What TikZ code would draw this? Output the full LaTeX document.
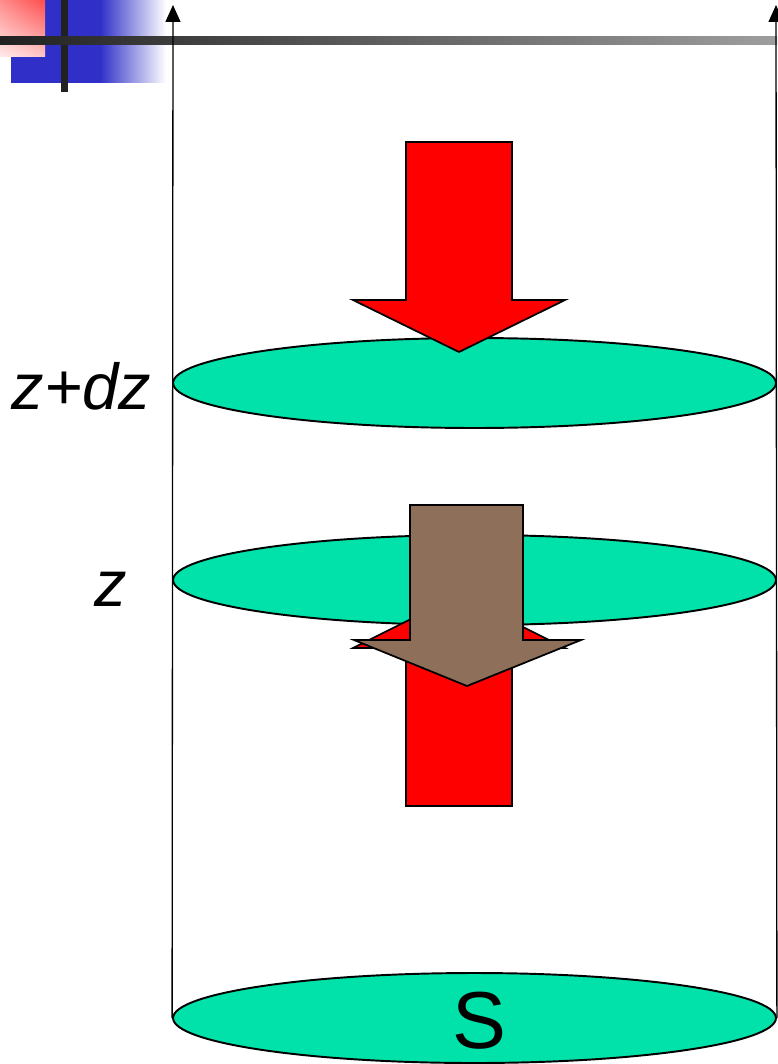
\documentclass[tikz,border=0pt]{standalone}
\usepackage{fontspec}
\setmainfont{Liberation Sans}
\usepackage{xcolor}
\usetikzlibrary{shapes.geometric, arrows.meta, positioning, shadings}
\definecolor{disc}{RGB}{0,226,170}
\definecolor{flux}{RGB}{255,0,0}
\definecolor{mud}{RGB}{142,112,90}
\definecolor{barblue}{RGB}{48,48,200}
\tikzstyle{slab} = [ellipse, draw=black, line width=1.1pt, fill=disc, minimum width=12.06cm, minimum height=1.8cm, inner sep=0pt]
\tikzstyle{levellabel} = [font=\fontsize{37}{44}\selectfont\itshape, inner sep=0pt]
\tikzstyle{redarrow} = [draw=black, line width=1pt, fill=flux]
\tikzstyle{brownarrow} = [draw=black, line width=1pt, fill=mud]
\tikzstyle{axis} = [line width=0.75pt, -{Triangle[width=0.3cm,length=0.34cm]}]

\begin{document}
\begin{tikzpicture}[x=0.02cm, y=-0.02cm]
\useasboundingbox (0,0) rectangle (777,1064);
% corner mark
\fill[barblue] (11,0) rectangle (100,83);
\shade[left color=barblue, right color=white] (100,0) rectangle (166,83);
\shade[upper left=red!45, upper right=red!70, lower left=red!8, lower right=red!22] (0,0) rectangle (45,57);
\fill[black!87] (61,0) rectangle (68,92);
\shade[left color=black!87, right color=black!38] (0,37) rectangle (777,45);

% discs
\node (top) [slab] at (474.5,383) {};
\node (mid) [slab] at (474.5,580) {};
\node (base) [slab] at (474.5,1018) {};

% axes
\coordinate (ltop) at (173,5);
\coordinate (rtop) at (776,5);
\draw [axis] (base.west) -- (ltop);
\draw [axis] (base.east) -- (rtop);

% fluxes
\draw [redarrow] (406,142) -- (512,142) -- (512,300) -- (565,300) -- (459,352) -- (353,300) -- (406,300) -- cycle;
\draw [redarrow] (406,806) -- (512,806) -- (512,648) -- (565,648) -- (459,595) -- (353,648) -- (406,648) -- cycle;
\draw [brownarrow] (410,505) -- (523,505) -- (523,640) -- (581,640) -- (467,686) -- (354,640) -- (410,640) -- cycle;

% labels
\node (lzdz) [levellabel] at (81.5,386.5) {z+dz};
\node (lz) [levellabel] at (110.5,589.5) {z};
\node (ls) [font=\fontsize{46}{54}\selectfont, inner sep=0pt] at (479,1021) {S};
\end{tikzpicture}
\end{document}
